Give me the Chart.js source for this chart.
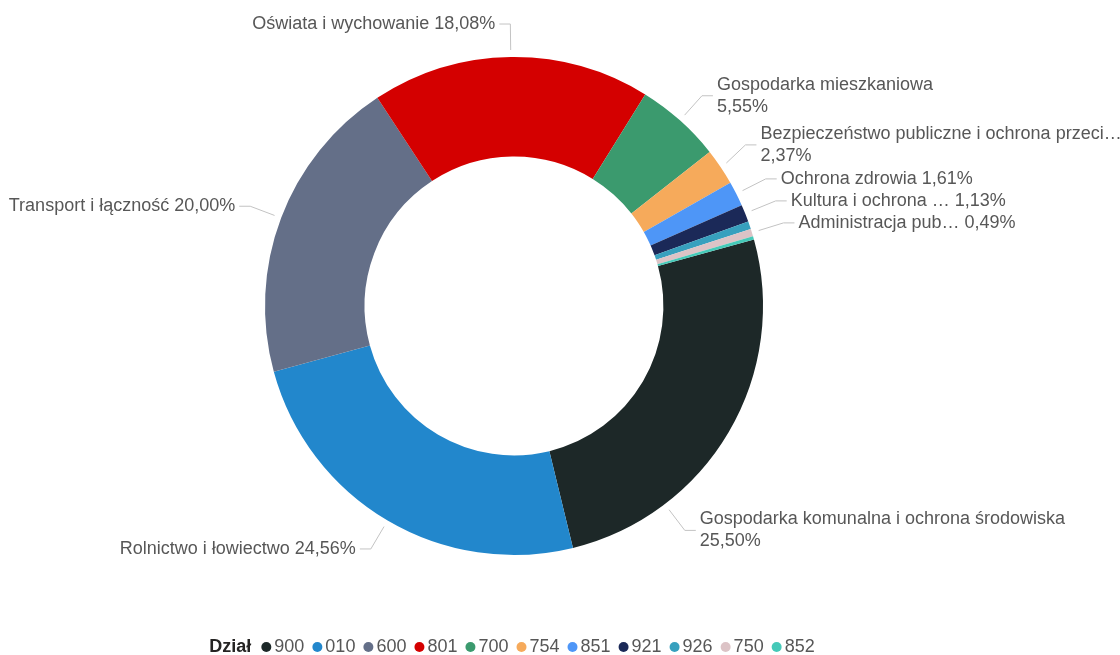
<!DOCTYPE html>
<html>
<head>
<meta charset="utf-8">
<script src="https://cdn.jsdelivr.net/npm/chart.js@4.4.0/dist/chart.umd.min.js"></script>
<style>
  html, body { margin: 0; padding: 0; background: #fff; }
  canvas { display: block; }
</style>
</head>
<body>
<canvas id="donut" width="1120" height="655"></canvas>
<script>
// budget share by "dział" (percent)
const codes = ["900", "010", "600", "801", "700", "754", "851", "921", "926", "750", "852"];
const names = [
  "Gospodarka komunalna i ochrona środowiska",
  "Rolnictwo i łowiectwo",
  "Transport i łączność",
  "Oświata i wychowanie",
  "Gospodarka mieszkaniowa",
  "Bezpieczeństwo publiczne i ochrona przeci…",
  "Ochrona zdrowia",
  "Kultura i ochrona …",
  null,
  "Administracja pub…",
  null
];
const shares = [25.50, 24.56, 20.00, 18.08, 5.55, 2.37, 1.61, 1.13, 0.50, 0.49, 0.21];
const colors = ["#1d2828", "#2287cc", "#646f88", "#d40000", "#3b9a6e", "#f6aa5b",
                "#4e96f7", "#1b2958", "#37a0be", "#dcc3c6", "#45c9b8"];
const legendTitle = "Dział";

const FONT = "'Liberation Sans', Arial, sans-serif";
const TEXT = "#575757";
const LEADER = "#c3c3c3";

const pct = v => v.toFixed(2).replace(".", ",") + "%";

// outside labels with leader lines, Power BI style
const outsideLabels = {
  id: "outsideLabels",
  afterDraw(chart) {
    const ctx = chart.ctx;
    const arcs = chart.getDatasetMeta(0).data;
    ctx.save();
    ctx.font = "18px " + FONT;
    const items = [];
    arcs.forEach((arc, i) => {
      if (!names[i]) return;
      const p = arc.getProps(["x", "y", "startAngle", "endAngle", "outerRadius"], true);
      let lines = [names[i] + " " + pct(shares[i])];
      if (ctx.measureText(lines[0]).width > 255) lines = [names[i], pct(shares[i])];
      const w = Math.max(...lines.map(l => ctx.measureText(l).width));
      let a = (p.startAngle + p.endAngle) / 2;
      const right = Math.cos(a) >= 0;
      const R2 = p.outerRadius + 33;
      if (right && !names[i].includes("…")) {
        const maxX = 1065 - w - 15;
        if (p.x + R2 * Math.cos(a) > maxX) {
          const t = Math.acos(Math.max(-1, Math.min(1, (maxX - p.x) / R2)));
          let na = Math.sin(a) >= 0 ? t : -t;
          // keep inside the slice
          while (na < p.startAngle) na += Math.PI * 2;
          while (na > p.endAngle) na -= Math.PI * 2;
          if (na >= p.startAngle && na <= p.endAngle) a = na;
        }
      }
      items.push({
        a, right, lines, cx: p.x, cy: p.y, r: p.outerRadius,
        h: lines.length > 1 ? 44 : 20,
        y: p.y + R2 * Math.sin(a), pushed: false
      });
    });

    // push overlapping labels on the right side upwards
    const rs = items.filter(it => it.right).sort((u, v) => u.y - v.y);
    for (let k = rs.length - 2; k >= 0; k--) {
      const lim = rs[k + 1].y - rs[k + 1].h / 2 - 2 - rs[k].h / 2;
      if (rs[k].y > lim) { rs[k].y = lim; rs[k].pushed = true; }
    }

    ctx.strokeStyle = LEADER;
    ctx.lineWidth = 1;
    ctx.fillStyle = TEXT;
    ctx.textBaseline = "middle";
    items.forEach(it => {
      const R1 = it.r + 7, R2 = it.r + 33;
      const sx = it.cx + R1 * Math.cos(it.a);
      const sy = it.cy + R1 * Math.sin(it.a);
      let ex = it.cx + R2 * Math.cos(it.a);
      if (it.pushed) {
        const dy = it.y - it.cy;
        ex = it.cx + (it.right ? 1 : -1) * Math.sqrt(Math.max(0, R2 * R2 - dy * dy));
      }
      const dir = it.right ? 1 : -1;
      ctx.beginPath();
      ctx.moveTo(sx, sy);
      ctx.lineTo(ex, it.y);
      ctx.lineTo(ex + dir * 11, it.y);
      ctx.stroke();
      ctx.textAlign = it.right ? "left" : "right";
      const tx = ex + dir * 15;
      if (it.lines.length > 1) {
        ctx.fillText(it.lines[0], tx, it.y - 11);
        ctx.fillText(it.lines[1], tx, it.y + 11);
      } else {
        ctx.fillText(it.lines[0], tx, it.y);
      }
    });
    ctx.restore();
  }
};

// legend row: bold title followed by dots and codes
const bottomLegend = {
  id: "bottomLegend",
  afterDraw(chart) {
    const ctx = chart.ctx;
    ctx.save();
    ctx.textBaseline = "middle";
    ctx.textAlign = "left";
    ctx.font = "bold 18px " + FONT;
    const titleW = ctx.measureText(legendTitle).width;
    ctx.font = "18px " + FONT;
    const widths = codes.map(c => ctx.measureText(c).width);
    const total = titleW + 10 + widths.reduce((s, w) => s + 13 + w + 8, 0) - 8;
    const area = chart.chartArea;
    let x = (area.left + area.right) / 2 - 2 - total / 2;
    const y = 647;
    ctx.font = "bold 18px " + FONT;
    ctx.fillStyle = "#252423";
    ctx.fillText(legendTitle, x, y);
    x += titleW + 10;
    ctx.font = "18px " + FONT;
    codes.forEach((c, i) => {
      ctx.fillStyle = colors[i];
      ctx.beginPath();
      ctx.arc(x + 5, y, 5, 0, Math.PI * 2);
      ctx.fill();
      ctx.fillStyle = TEXT;
      ctx.fillText(c, x + 13, y);
      x += 13 + widths[i] + 8;
    });
    ctx.restore();
  }
};

new Chart(document.getElementById("donut"), {
  type: "doughnut",
  data: {
    labels: codes,
    datasets: [{
      data: shares,
      backgroundColor: colors,
      borderWidth: 0
    }]
  },
  options: {
    responsive: false,
    devicePixelRatio: 1,
    animation: false,
    rotation: 74.5,
    cutout: "60%",
    layout: { padding: { top: 57, bottom: 100, left: 265, right: 357 } },
    plugins: {
      legend: { display: false },
      tooltip: { enabled: false }
    }
  },
  plugins: [outsideLabels, bottomLegend]
});
</script>
</body>
</html>
